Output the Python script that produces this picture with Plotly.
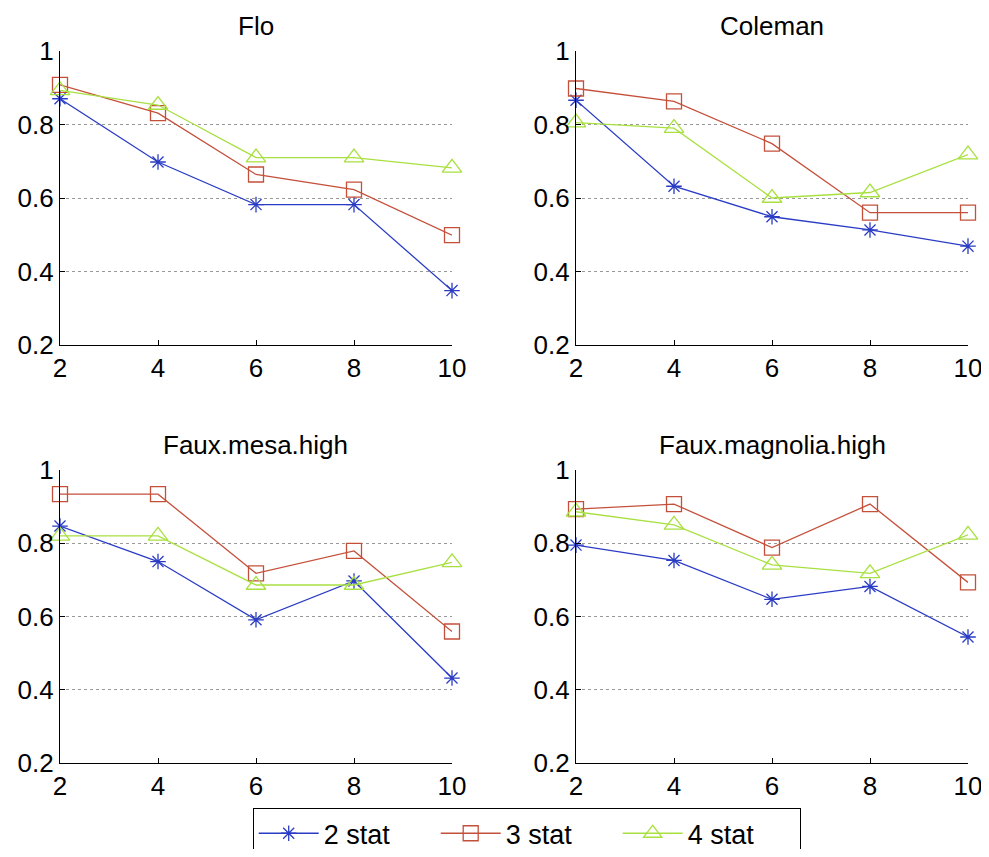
import plotly.graph_objects as go

x_vals = [2, 4, 6, 8, 10]
panel_titles = ["Flo", "Coleman", "Faux.mesa.high", "Faux.magnolia.high"]
series_names = ["2 stat", "3 stat", "4 stat"]

flo_2 = [0.870, 0.698, 0.582, 0.582, 0.348]
flo_3 = [0.908, 0.831, 0.664, 0.623, 0.499]
flo_4 = [0.893, 0.853, 0.710, 0.710, 0.682]

coleman_2 = [0.866, 0.632, 0.549, 0.513, 0.469]
coleman_3 = [0.898, 0.863, 0.748, 0.560, 0.560]
coleman_4 = [0.805, 0.790, 0.600, 0.615, 0.718]

mesa_2 = [0.847, 0.750, 0.591, 0.697, 0.432]
mesa_3 = [0.934, 0.934, 0.718, 0.779, 0.559]
mesa_4 = [0.820, 0.820, 0.686, 0.686, 0.748]

magnolia_2 = [0.795, 0.753, 0.647, 0.682, 0.544]
magnolia_3 = [0.893, 0.907, 0.788, 0.907, 0.693]
magnolia_4 = [0.886, 0.850, 0.741, 0.718, 0.823]

panels = [
    [flo_2, flo_3, flo_4],
    [coleman_2, coleman_3, coleman_4],
    [mesa_2, mesa_3, mesa_4],
    [magnolia_2, magnolia_3, magnolia_4],
]

colors = ["#2a3cc4", "#c4503a", "#a8e040"]
symbols = ["asterisk-open", "square-open", "triangle-up-open"]
msizes = [13, 15, 17]

# page body has an 8px margin: the figure is drawn at (8, 8)
OFF = 8
W, H = 977, 857 - 2 * OFF
# pixel boxes of each axes in screen coords: (left, right, top, bottom)
boxes = [(60, 452, 51, 345), (576, 968, 51, 345),
         (60, 452, 470, 763), (576, 968, 470, 763)]


def px(v):
    return v / W


def py(v):
    return 1 - v / H


FONT = "Liberation Sans, Arial, Helvetica, sans-serif"
FS = 26
fig = go.Figure()

for i, (series, box) in enumerate(zip(panels, boxes)):
    n = "" if i == 0 else str(i + 1)
    for j, ys in enumerate(series):
        fig.add_trace(go.Scatter(
            x=x_vals, y=ys, mode="lines+markers",
            name=series_names[j], showlegend=(i == 0),
            line=dict(color=colors[j], width=1.3),
            marker=dict(symbol=symbols[j], size=msizes[j], color=colors[j],
                        line=dict(color=colors[j], width=1.3)),
            cliponaxis=False,
            xaxis="x" + n, yaxis="y" + n,
        ))
    l, r, t, b = [v - OFF for v in box]
    fig.layout["xaxis" + n] = dict(
        domain=[px(l), px(r)], anchor="y" + n, range=[2, 10],
        tickvals=x_vals, ticks="inside", ticklen=5, tickcolor="black",
        showline=True, linecolor="black", linewidth=1.2, showgrid=False,
        zeroline=False, automargin=False, ticklabeloverflow="allow",
        tickfont=dict(size=FS, color="black", family=FONT),
    )
    fig.layout["yaxis" + n] = dict(
        domain=[py(b), py(t)], anchor="x" + n, range=[0.2, 1.0],
        tickvals=[0.2, 0.4, 0.6, 0.8, 1.0], ticktext=["0.2", "0.4", "0.6", "0.8", "1"],
        ticks="inside", ticklen=5, tickcolor="black",
        showline=True, linecolor="black", linewidth=1.2,
        showgrid=True, gridcolor="#999999", griddash="dot", gridwidth=1,
        zeroline=False, automargin=False, ticklabeloverflow="allow",
        tickfont=dict(size=FS, color="black", family=FONT),
    )
    fig.add_annotation(
        text=panel_titles[i], x=px((l + r) / 2), y=py(t - 25),
        xref="paper", yref="paper", showarrow=False,
        font=dict(size=26, color="black", family=FONT),
        xanchor="center", yanchor="middle",
    )

fig.update_layout(
    width=W, height=H,
    margin=dict(l=0, r=0, t=0, b=0, pad=0, autoexpand=False),
    paper_bgcolor="white", plot_bgcolor="white",
    font=dict(family=FONT, color="black"),
    legend=dict(
        orientation="h", x=px(527 - OFF), xanchor="center", y=py(808 - OFF), yanchor="top",
        bordercolor="black", borderwidth=1.2, bgcolor="white",
        font=dict(size=27, color="black", family=FONT),
        entrywidth=107, entrywidthmode="pixels", itemwidth=60,
    ),
)

fig.write_html("out.html")
